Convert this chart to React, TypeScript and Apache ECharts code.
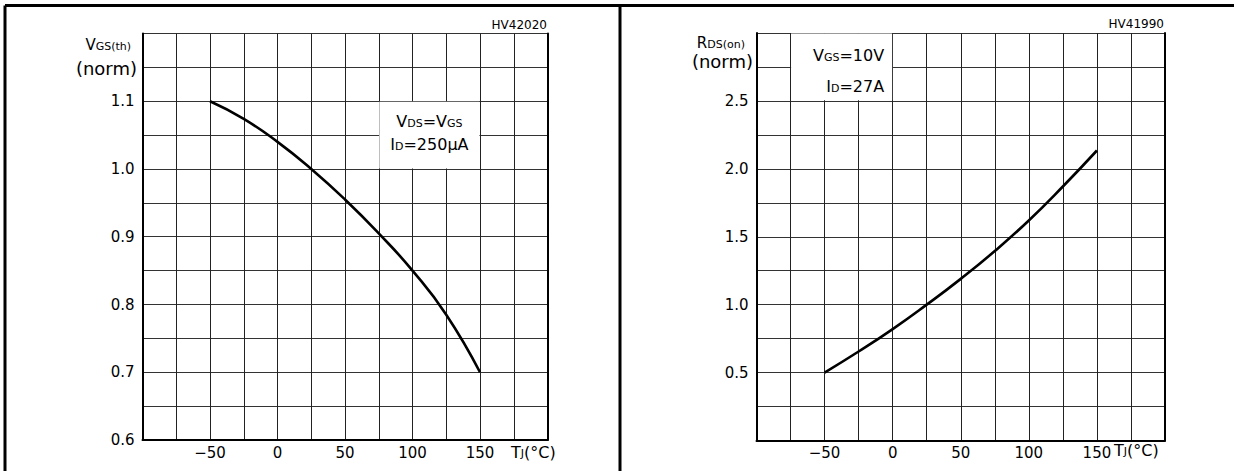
import React, { useEffect, useRef } from "react";
import * as echarts from "echarts";

// ---- data ----
const TEMP_C = [-50, -25, 0, 25, 50, 75, 100, 125, 150];
const VGS_TH_NORM = [1.1, 1.074, 1.04, 1.0, 0.955, 0.905, 0.85, 0.785, 0.7];
const RDS_ON_NORM = [0.5, 0.655, 0.82, 1.0, 1.19, 1.395, 1.62, 1.87, 2.135];

const X_TICK_LABELS = [-50, 0, 50, 100, 150];
const VGS_TICK_LABELS = [0.6, 0.7, 0.8, 0.9, 1.0, 1.1];
const RDS_TICK_LABELS = [0.5, 1.0, 1.5, 2.0, 2.5];

const FONT = "DejaVu Sans";

const has = (arr: number[], v: number) => arr.some((a) => Math.abs(a - v) < 1e-6);
const xFmt = (v: number) => (has(X_TICK_LABELS, v) ? (v < 0 ? "\u2212" + Math.abs(v) : String(v)) : "");
const yFmt = (labels: number[]) => (v: number) => (has(labels, v) ? v.toFixed(1) : "");

function xAxisFor(grid: number) {
  return {
    type: "value",
    gridIndex: grid,
    min: -100,
    max: 200,
    interval: 25,
    axisLine: { show: true, onZero: false, lineStyle: { color: "#000", width: 2 } },
    axisTick: { show: false },
    splitLine: { show: true, lineStyle: { color: "#222", width: 1 } },
    axisLabel: { formatter: xFmt, fontFamily: FONT, fontSize: 15, color: "#000", margin: 5 },
  };
}

function yAxisFor(grid: number, min: number, max: number, interval: number, labels: number[]) {
  return [
    {
      type: "value",
      gridIndex: grid,
      position: "left",
      min,
      max,
      interval,
      axisLine: { show: true, onZero: false, lineStyle: { color: "#000", width: 2 } },
      axisTick: { show: false },
      splitLine: { show: true, lineStyle: { color: "#333", width: 1 } },
      axisLabel: { formatter: yFmt(labels), fontFamily: FONT, fontSize: 15, color: "#000", margin: 8 },
    },
    {
      type: "value",
      gridIndex: grid,
      position: "right",
      min,
      max,
      interval,
      axisLine: { show: true, onZero: false, lineStyle: { color: "#000", width: 2 } },
      axisTick: { show: false },
      splitLine: { show: false },
      axisLabel: { show: false },
    },
  ];
}

const sub = (size: number, shift: number) => ({
  fontFamily: FONT,
  fontSize: size,
  lineHeight: size + 2,
  verticalAlign: "middle",
  padding: [shift, 0, 0, 0],
  color: "#000",
  fill: "#000",
});

function txt(text: string, x: number, y: number, size: number, align: string, rich?: any, lh?: number) {
  return {
    type: "text",
    x,
    y,
    silent: true,
    style: {
      text,
      fill: "#000",
      fontFamily: FONT,
      fontSize: size,
      lineHeight: lh || size * 1.2,
      align,
      verticalAlign: "middle",
      rich,
    },
  };
}

function line(x1: number, y1: number, x2: number, y2: number) {
  return { type: "line", silent: true, shape: { x1, y1, x2, y2 }, style: { stroke: "#000", lineWidth: 3 } };
}

export default function App() {
  const ref = useRef<HTMLDivElement>(null);
  useEffect(() => {
    if (!ref.current) return;
    const chart = echarts.init(ref.current, undefined, { renderer: "svg" });
    const [y0, y1] = yAxisFor(0, 0.6, 1.2, 0.05, VGS_TICK_LABELS);
    const [y2, y3] = yAxisFor(1, 0, 3.0, 0.25, RDS_TICK_LABELS);
    chart.setOption({
      animation: false,
      backgroundColor: "#fff",
      grid: [
        { left: 142.5, top: 33.5, width: 405, height: 406.5 },
        { left: 756.5, top: 33, width: 408.5, height: 407.5 },
      ],
      xAxis: [xAxisFor(0), xAxisFor(1)],
      yAxis: [y0, y1, y2, y3],
      series: [
        {
          type: "line",
          xAxisIndex: 0,
          yAxisIndex: 0,
          data: TEMP_C.map((t, i) => [t, VGS_TH_NORM[i]]),
          smooth: 0.5,
          showSymbol: false,
          symbol: "none",
          lineStyle: { color: "#000", width: 2.6 },
          markArea: {
            silent: true,
            itemStyle: { color: "#fff", opacity: 1 },
            label: {
              show: true,
              position: "inside",
              offset: [0, -2],
              color: "#000",
              fontFamily: FONT,
              fontSize: 16,
              lineHeight: 23,
              rich: { s: sub(11, 3.5) },
            },
            data: [
              [
                { coord: [75.4, 1.0008], name: "V{s|DS}=V{s|GS}\nI{s|D}=250\u00b5A" },
                { coord: [149.6, 1.0992] },
              ],
            ],
          },
        },
        {
          type: "line",
          xAxisIndex: 1,
          yAxisIndex: 2,
          data: TEMP_C.map((t, i) => [t, RDS_ON_NORM[i]]),
          smooth: 0.5,
          showSymbol: false,
          symbol: "none",
          lineStyle: { color: "#000", width: 2.6 },
          markArea: {
            silent: true,
            itemStyle: { color: "#fff", opacity: 1 },
            label: {
              show: true,
              position: "insideRight",
              distance: 8,
              offset: [0, 4],
              align: "right",
              color: "#000",
              fontFamily: FONT,
              fontSize: 16,
              lineHeight: 31,
              rich: { s: sub(11, 3.5) },
            },
            data: [
              [
                { coord: [-74.6, 2.504], name: "V{s|GS}=10V\nI{s|D}=27A" },
                { coord: [-0.4, 2.996] },
              ],
            ],
          },
        },
      ],
      graphic: [
        line(5, 5.5, 1234, 5.5),
        line(5, 5.5, 5, 471),
        line(620, 5.5, 620, 471),
        // left panel texts
        txt("HV42020", 547, 25, 12, "right"),
        txt("V{s|GS(th)}", 131, 45, 15, "right", { s: sub(11, 3.2) }, 18),
        txt("(norm)", 137, 68, 18, "right"),
        txt("T{s|J}(\u00b0C)", 511, 452, 16, "left", { s: sub(11, 3.5) }, 19),
        // right panel texts
        txt("HV41990", 1164, 24, 12, "right"),
        txt("R{s|DS(on)}", 745, 43, 15, "right", { s: sub(11, 3.2) }, 18),
        txt("(norm)", 753, 61, 18, "right"),
        txt("T{s|J}(\u00b0C)", 1114, 450, 16, "left", { s: sub(11, 3.5) }, 19),
      ],
    });
    return () => chart.dispose();
  }, []);
  return (
    <div
      ref={ref}
      style={{ position: "absolute", left: 0, top: 0, width: 1234, height: 471, background: "#fff" }}
    />
  );
}
